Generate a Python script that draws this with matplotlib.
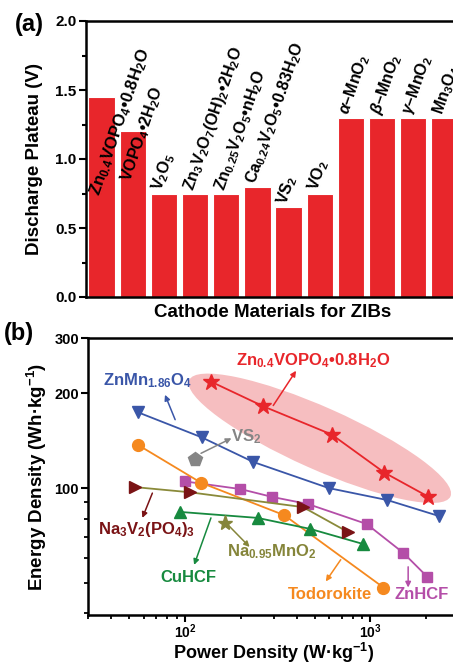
import matplotlib
matplotlib.use("Agg")
import matplotlib.pyplot as plt
import matplotlib.transforms as mtransforms
from matplotlib.patches import Ellipse
from matplotlib.ticker import LogLocator, NullFormatter, FixedLocator, FixedFormatter, MultipleLocator

plt.rcParams['font.family'] = ['Liberation Sans', 'DejaVu Sans']
plt.rcParams['font.weight'] = 'bold'
plt.rcParams['mathtext.fontset'] = 'custom'
plt.rcParams['mathtext.rm'] = 'Liberation Sans:bold'
plt.rcParams['mathtext.bf'] = 'Liberation Sans:bold'
plt.rcParams['mathtext.it'] = 'Liberation Sans:bold:italic'

# ---- panel (a) data ----
materials = [r'Zn$_{0.4}$VOPO$_4$•0.8H$_2$O', r'VOPO$_4$•2H$_2$O', r'V$_2$O$_5$',
             r'Zn$_3$V$_2$O$_7$(OH)$_2$•2H$_2$O', r'Zn$_{0.25}$V$_2$O$_5$•nH$_2$O',
             r'Ca$_{0.24}$V$_2$O$_5$•0.83H$_2$O', r'VS$_2$', r'VO$_2$',
             r'$\alpha$–MnO$_2$', r'$\beta$–MnO$_2$', r'$\gamma$–MnO$_2$', r'Mn$_3$O$_4$']
plateau = [1.45, 1.2, 0.75, 0.75, 0.75, 0.8, 0.65, 0.75, 1.3, 1.3, 1.3, 1.3]

# ---- panel (b) data ----
zvp_p = [138, 264, 618, 1188, 2042]
zvp_e = [218, 182, 148, 112, 94]
znmn_p = [56, 123, 234, 596, 1233, 2340]
znmn_e = [174, 145, 121, 100, 91.6, 81.5]
vs2_p = [113]
vs2_e = [123.6]
todo_p = [56, 122, 343, 1175]
todo_e = [137, 104, 82, 48.3]
znhcf_p = [100, 199, 296, 460, 953, 1500, 2020]
znhcf_e = [105, 99.3, 93.7, 89, 76.9, 62.3, 52.3]
nvp_p = [54, 106, 433, 753]
nvp_e = [100.7, 97, 87, 72.6]
nmo_p = [164]
nmo_e = [77.5]
cuhcf_p = [94, 246, 472, 906]
cuhcf_e = [84, 80.4, 74.2, 66.5]

RED = '#E8262B'
fig = plt.figure(figsize=(4.53, 6.65), dpi=100)

# ================= (a) =================
ax1 = fig.add_axes([86/453, 1-297/665, 374/453, 276/665])
x = range(len(plateau))
ax1.bar(x, plateau, width=0.84, color=RED, edgecolor='white', linewidth=0.8)
ax1.set_xlim(-0.5, 11.5)
ax1.set_ylim(0, 2.0)
ax1.yaxis.set_major_locator(MultipleLocator(0.5))
ax1.yaxis.set_minor_locator(MultipleLocator(0.25))
ax1.set_xticks([])
ax1.tick_params(axis='y', which='major', direction='out', length=5, width=1.5, labelsize=11, pad=2)
ax1.tick_params(axis='y', which='minor', direction='out', length=3, width=1.5)
for s in ax1.spines.values():
    s.set_linewidth(1.8)
ax1.set_ylabel('Discharge Plateau (V)', fontsize=13.5, fontweight='bold', labelpad=9)
ax1.set_xlabel('Cathode Materials for ZIBs', fontsize=13.5, fontweight='bold', labelpad=5)
# the two longest labels start inside their bars
start_y = {0: 0.72, 1: 0.82}
for i, (lab, v) in enumerate(zip(materials, plateau)):
    y0 = start_y.get(i, v + 0.005)
    fs = 12 if i == 0 else 11.5
    ax1.text(i + 0.08, y0, lab, rotation=71, rotation_mode='anchor',
             ha='left', va='bottom', fontsize=fs, fontweight='bold', color='black')
fig.text(15/453, 1-24/665, '(a)', fontsize=17, fontweight='bold', va='center')

# ================= (b) =================
ax2 = fig.add_axes([88/453, 1-615/665, 371/453, 277/665])
ax2.set_xscale('log')
ax2.set_yscale('log')
ax2.set_xlim(30, 3000)
ax2.set_ylim(39.5, 300)

# shaded ellipse round the Zn0.4VOPO4 series
ell_tr = fig.dpi_scale_trans + mtransforms.ScaledTranslation(533, 144, ax2.transData)
ax2.add_patch(Ellipse((0, 0), 2.86, 0.62, angle=-24, transform=ell_tr,
                      facecolor='#F5B7B9', edgecolor='none', alpha=0.9, zorder=1))

lw = 1.3
ax2.plot(znhcf_p, znhcf_e, '-s', color='#B44EA8', ms=7.5, lw=lw, zorder=3)
ax2.plot(todo_p, todo_e, '-o', color='#F5891F', ms=8.5, lw=lw, zorder=3)
ax2.plot(nvp_p, nvp_e, '-', color='#8A8A3A', lw=lw, zorder=3)
ax2.plot(nvp_p, nvp_e, '>', color='#7A1315', ms=9, zorder=4)
ax2.plot(cuhcf_p, cuhcf_e, '-^', color='#178A3F', ms=9, lw=lw, zorder=3)
ax2.plot(znmn_p, znmn_e, '-v', color='#3A56A8', ms=9, lw=lw, zorder=3)
ax2.plot(vs2_p, vs2_e, 'p', color='#858585', ms=10, zorder=3)
ax2.plot(nmo_p, nmo_e, '*', color='#85853A', ms=11, zorder=3)
ax2.plot(zvp_p, zvp_e, '-*', color=RED, ms=12, lw=lw, zorder=5)

def note(text, xy, xytext, tx, ty, color, ha='center', fs=12):
    ax2.annotate('', xy=xy, xytext=xytext,
                 arrowprops=dict(arrowstyle='-|>', color=color, lw=1.1,
                                 mutation_scale=8, shrinkA=0, shrinkB=0))
    ax2.text(tx, ty, text, color=color, fontsize=fs, fontweight='bold',
             ha=ha, va='center')

note(r'Zn$_{0.4}$VOPO$_4$•0.8H$_2$O', (397, 236), (299, 183), 490, 254, RED)
note(r'ZnMn$_{1.86}$O$_4$', (78, 198), (88.5, 165), 62.6, 220, '#3A56A8')
note(r'VS$_2$', (178, 144), (122, 129), 176, 146, '#858585', ha='left')
note(r'Na$_3$V$_2$(PO$_4$)$_3$', (58.9, 80.4), (66.7, 96.4), 61.8, 73.6, '#7A1315')
note(r'Na$_{0.95}$MnO$_2$', (223, 65), (172, 76), 292, 62.6, '#85853A')
note('CuHCF', (112, 57), (138, 80.4), 104, 52, '#178A3F')
note('Todorokite', (574, 50.5), (691, 59.2), 604, 45.8, '#F5891F')
note('ZnHCF', (1596, 48.3), (1596, 56.2), 1875, 45.8, '#B44EA8')

ax2.yaxis.set_major_locator(FixedLocator([100, 200, 300]))
ax2.yaxis.set_major_formatter(FixedFormatter(['100', '200', '300']))
ax2.yaxis.set_minor_locator(LogLocator(base=10, subs=range(2, 10)))
ax2.yaxis.set_minor_formatter(NullFormatter())
ax2.xaxis.set_minor_formatter(NullFormatter())
ax2.tick_params(which='major', direction='out', length=5, width=1.5, labelsize=10.5, pad=1.5)
ax2.tick_params(axis='x', which='major', labelsize=10, pad=0)
ax2.tick_params(which='minor', direction='out', length=3, width=1.3)
for s in ax2.spines.values():
    s.set_linewidth(1.8)
ax2.set_xlabel(r'Power Density (W·kg$^{-1}$)', fontsize=13, fontweight='bold', labelpad=0)
ax2.set_ylabel(r'Energy Density (Wh·kg$^{-1}$)', fontsize=13.5, fontweight='bold', labelpad=4)
fig.text(4/453, 1-333/665, '(b)', fontsize=17, fontweight='bold', va='center')

fig.savefig('out.png', dpi=100)
